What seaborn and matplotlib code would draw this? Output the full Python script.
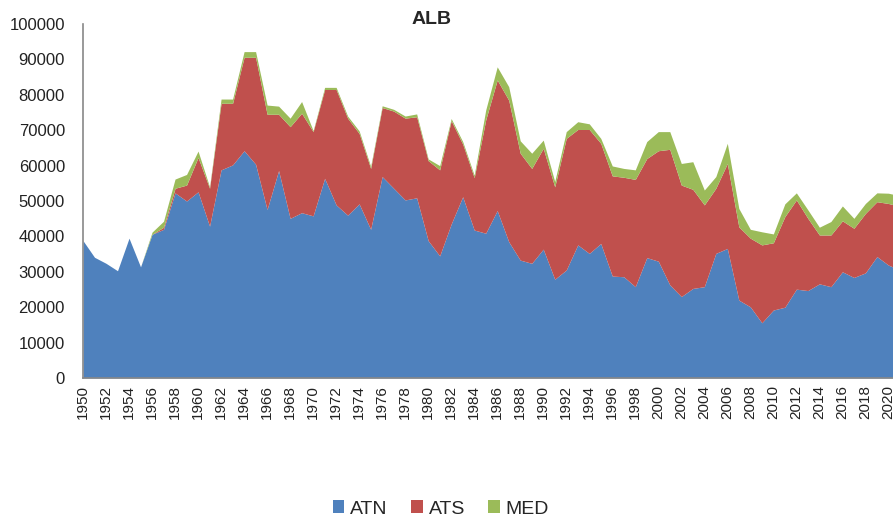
import matplotlib
matplotlib.use('Agg')
import matplotlib.pyplot as plt
import seaborn as sns
from matplotlib.patches import Patch

years = list(range(1950, 2022))

atn = [38.8, 34.1, 32.4, 30.3, 39.5, 31.4, 40.6, 42.0, 52.3, 50.0,
       52.6, 42.9, 58.8, 60.2, 64.2, 60.4, 47.6, 58.6, 45.1, 46.7,
       45.8, 56.4, 48.9, 46.0, 49.2, 42.0, 56.9, 53.6, 50.3, 50.9,
       38.8, 34.5, 43.5, 51.2, 41.8, 40.9, 47.3, 38.5, 33.3, 32.4,
       36.4, 27.9, 30.5, 37.6, 35.2, 38.0, 28.8, 28.6, 25.8, 34.0,
       33.0, 26.3, 23.0, 25.3, 25.8, 35.2, 36.6, 22.0, 20.1, 15.6,
       19.2, 20.0, 25.1, 24.7, 26.6, 25.8, 30.0, 28.4, 29.7, 34.3,
       31.9, 30.5]
# cumulative tops (thousand t)
ats_top = [38.8, 34.1, 32.4, 30.3, 39.5, 31.4, 40.6, 42.6, 53.6, 54.5,
           62.3, 53.6, 77.6, 77.6, 90.6, 90.6, 74.5, 74.5, 71.0, 74.8,
           69.6, 81.5, 81.5, 73.4, 69.1, 59.2, 76.4, 75.4, 73.4, 73.8,
           61.4, 58.8, 72.7, 66.1, 56.6, 72.9, 84.2, 78.5, 63.5, 59.2,
           64.9, 54.0, 67.7, 70.2, 70.2, 66.3, 57.1, 56.7, 56.1, 62.0,
           64.2, 64.6, 54.5, 53.3, 48.9, 53.6, 60.6, 42.7, 39.5, 37.6,
           38.2, 45.6, 50.3, 45.1, 40.4, 40.4, 44.4, 42.3, 46.5, 49.8,
           49.3, 48.5]
med_top = [38.8, 34.1, 32.4, 30.3, 39.5, 31.4, 41.2, 44.3, 56.2, 57.5,
           64.1, 54.0, 78.8, 78.8, 92.2, 92.2, 77.1, 76.8, 73.4, 78.1,
           69.9, 82.1, 82.1, 74.0, 69.8, 59.8, 76.9, 75.9, 74.0, 74.6,
           61.9, 60.0, 73.3, 66.8, 57.3, 75.7, 87.9, 82.3, 67.0, 63.5,
           67.2, 55.5, 69.6, 72.4, 71.8, 67.7, 59.9, 59.2, 58.8, 66.8,
           69.6, 69.6, 60.6, 61.1, 53.1, 56.9, 66.3, 47.9, 42.0, 41.3,
           40.7, 49.2, 52.3, 47.5, 42.6, 44.2, 48.6, 45.1, 49.3, 52.3,
           52.2, 51.5]

ats = [t - a for t, a in zip(ats_top, atn)]
med = [t - s for t, s in zip(med_top, ats_top)]
series = ['ATN', 'ATS', 'MED']
colors = ['#4F81BD', '#C0504D', '#9BBB59']

sns.set_theme(style='white')
plt.rcParams['font.family'] = ['Liberation Sans', 'DejaVu Sans']

fig = plt.figure(figsize=(8.93, 5.17), dpi=100)
ax = fig.add_axes([83 / 893, 1 - 378 / 517, 1 - 83 / 893, (378 - 24) / 517])

ax.stackplot(years, [v * 1000 for v in atn], [v * 1000 for v in ats],
             [v * 1000 for v in med], colors=colors, linewidth=0)

ax.set_xlim(1950, 2020.4)
ax.set_ylim(0, 100000)
ax.set_yticks(range(0, 100001, 10000))
ax.set_xticks(range(1950, 2021, 2))
ax.set_xticklabels([str(y) for y in range(1950, 2021, 2)], rotation=90, fontsize=11)
ax.tick_params(axis='y', length=0, pad=13, labelsize=12, labelcolor='#222222')
ax.tick_params(axis='x', length=0, pad=5, labelcolor='#222222')

for side in ['top', 'right']:
    ax.spines[side].set_visible(False)
for side in ['left', 'bottom']:
    ax.spines[side].set_color('#888888')
    ax.spines[side].set_linewidth(1.2)

fig.text(432 / 893, 1 - 20 / 517, 'ALB', ha='center', va='center',
         fontsize=14, fontweight='bold')

handles = [Patch(facecolor=c, edgecolor='none', label=s) for c, s in zip(colors, series)]
fig.legend(handles=handles, loc='center', bbox_to_anchor=(441 / 893, 1 - 509 / 517),
           ncol=3, frameon=False, fontsize=14, handlelength=0.6, handleheight=0.6,
           handletextpad=0.3, columnspacing=1.2)

fig.savefig('out.png', dpi=100)
